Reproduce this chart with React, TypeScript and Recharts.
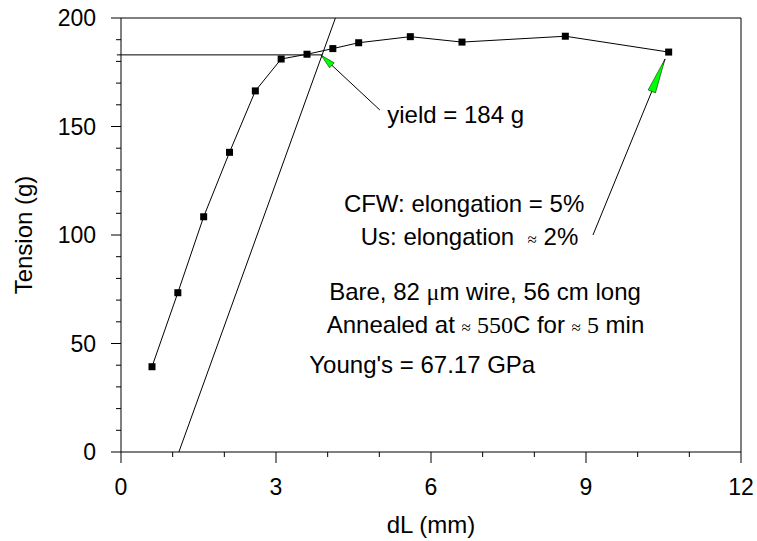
import { LineChart, Line, XAxis, YAxis, ReferenceLine, ReferenceDot, Label } from 'recharts'

const dL = [0.6, 1.1, 1.6, 2.1, 2.6, 3.1, 3.6, 4.1, 4.6, 5.6, 6.6, 8.6, 10.6]
const tension = [39.3, 73.4, 108.4, 138.1, 166.4, 181.1, 183.3, 185.9, 188.6, 191.4, 188.9, 191.6, 184.3]

const xTicks = [0, 1, 2, 3, 4, 5, 6, 7, 8, 9, 10, 11, 12]
const xLabels = [0, 3, 6, 9, 12]
const yTicks = [0, 10, 20, 30, 40, 50, 60, 70, 80, 90, 100, 110, 120, 130, 140, 150, 160, 170, 180, 190, 200]
const yLabels = [0, 50, 100, 150, 200]

// yield level and Young's modulus fit line
const yieldLine = [{ x: -0.08, y: 183 }, { x: 3.9, y: 183 }]
const youngLine = [{ x: 1.12, y: 0 }, { x: 4.15, y: 200 }]

const yieldArrow = [{ x: 5.01, y: 157.6 }, { x: 3.87, y: 182.9 }]
const elongArrow = [{ x: 9.135, y: 100 }, { x: 10.53, y: 181.1 }]

const points = dL.map((x, i) => ({ x, t: tension[i] }))

const SANS = '"Liberation Sans", Arial, sans-serif'
const SERIF = '"Liberation Serif", "Times New Roman", serif'
const GREEN = '#00ff00'

function XTick({ x, y, payload }: any) {
  const major = xLabels.includes(payload.value)
  return (
    <g>
      <line x1={x} y1={y} x2={x} y2={y + (major ? 11 : 5)} stroke="#000" />
      {major && (
        <text x={x} y={y + 43} textAnchor="middle" fontSize={23} fontFamily={SANS} fill="#000">
          {payload.value}
        </text>
      )}
    </g>
  )
}

function YTick({ x, y, payload }: any) {
  const major = yLabels.includes(payload.value)
  return (
    <g>
      <line x1={x - (major ? 10 : 5)} y1={y} x2={x} y2={y} stroke="#000" />
      {major && (
        <text x={x - 25} y={y + 8.3} textAnchor="end" fontSize={23} fontFamily={SANS} fill="#000">
          {payload.value}
        </text>
      )}
    </g>
  )
}

function SquareDot({ cx, cy, index }: any) {
  return <rect key={`sq-${index}`} x={cx - 3.5} y={cy - 3.5} width={7} height={7} fill="#000" />
}

function arrowShape(len: number, half: number) {
  return (p: any) => {
    const { x1, y1, x2, y2 } = p
    const dx = x2 - x1
    const dy = y2 - y1
    const d = Math.hypot(dx, dy) || 1
    const ux = dx / d
    const uy = dy / d
    const bx = x2 - ux * len
    const by = y2 - uy * len
    const pts = `${x2},${y2} ${bx - uy * half},${by + ux * half} ${bx + uy * half},${by - ux * half}`
    return (
      <g>
        <line x1={x1} y1={y1} x2={x2} y2={y2} stroke="#000" strokeWidth={1} />
        <polygon points={pts} fill={GREEN} stroke="#000" strokeWidth={0.5} />
      </g>
    )
  }
}

const approx = (k: string) => (
  <tspan key={k} fontFamily={SERIF} fontSize={17}>≈</tspan>
)

const notes: { x: number; y: number; anchor: 'start' | 'middle'; body: any }[] = [
  { x: 5.154, y: 151.5, anchor: 'start', body: 'yield = 184 g' },
  { x: 6.64, y: 110.7, anchor: 'middle', body: 'CFW: elongation = 5%' },
  {
    x: 6.745, y: 95.4, anchor: 'middle',
    body: [<tspan key="a">Us: elongation  </tspan>, approx('b'), <tspan key="c"> 2%</tspan>],
  },
  {
    x: 7.045, y: 70.0, anchor: 'middle',
    body: [
      <tspan key="a">Bare, 82 </tspan>,
      <tspan key="b" fontFamily={SERIF}>μ</tspan>,
      <tspan key="c">m wire, 56 cm long</tspan>,
    ],
  },
  {
    x: 7.055, y: 54.7, anchor: 'middle',
    body: [
      <tspan key="a">Annealed at </tspan>,
      approx('b'),
      <tspan key="c" fontFamily={SERIF}> 550</tspan>,
      <tspan key="d">C for </tspan>,
      approx('e'),
      <tspan key="f" fontFamily={SERIF}> 5</tspan>,
      <tspan key="g"> min</tspan>,
    ],
  },
  { x: 3.645, y: 36.2, anchor: 'start', body: "Young's = 67.17 GPa" },
]

export default function App() {
  return (
    <div style={{ position: 'absolute', left: 0, top: 0, background: '#fff' }}>
      <LineChart
        width={757}
        height={541}
        data={points}
        margin={{ top: 18, right: 16, bottom: 0, left: 0 }}
      >
        <XAxis
          type="number"
          dataKey="x"
          domain={[0, 12]}
          ticks={xTicks}
          interval={0}
          tickSize={0}
          tickMargin={0}
          tick={<XTick />}
          axisLine={{ stroke: '#000' }}
          height={89}
        >
          <Label
            content={(p: any) => (
              <text
                x={p.viewBox.x + p.viewBox.width / 2}
                y={p.viewBox.y + 81}
                textAnchor="middle"
                fontSize={24}
                fontFamily={SANS}
                fill="#000"
              >
                dL (mm)
              </text>
            )}
          />
        </XAxis>
        <YAxis
          type="number"
          domain={[0, 200]}
          ticks={yTicks}
          interval={0}
          tickSize={0}
          tickMargin={0}
          tick={<YTick />}
          axisLine={{ stroke: '#000' }}
          width={121}
        >
          <Label
            content={(p: any) => {
              const cx = 32
              const cy = p.viewBox.y + p.viewBox.height / 2
              return (
                <text
                  x={cx}
                  y={cy}
                  transform={`rotate(-90, ${cx}, ${cy})`}
                  textAnchor="middle"
                  fontSize={24}
                  fontFamily={SANS}
                  fill="#000"
                >
                  Tension (g)
                </text>
              )
            }}
          />
        </YAxis>

        <ReferenceLine y={200} stroke="#000" />
        <ReferenceLine x={12} stroke="#000" />
        <ReferenceLine segment={yieldLine} stroke="#000" ifOverflow="visible" />
        <ReferenceLine segment={youngLine} stroke="#000" />

        <Line
          dataKey="t"
          stroke="#000"
          strokeWidth={1}
          dot={SquareDot}
          activeDot={false}
          isAnimationActive={false}
        />

        <ReferenceLine segment={yieldArrow} shape={arrowShape(15, 3.4)} />
        <ReferenceLine segment={elongArrow} shape={arrowShape(35, 4)} />

        {notes.map((n, i) => (
          <ReferenceDot
            key={i}
            x={n.x}
            y={n.y}
            r={0}
            shape={(p: any) => (
              <text
                x={p.cx}
                y={p.cy}
                textAnchor={n.anchor}
                fontSize={24}
                fontFamily={SANS}
                fill="#000"
                style={{ whiteSpace: 'pre' }}
              >
                {n.body}
              </text>
            )}
          />
        ))}
      </LineChart>
    </div>
  )
}
